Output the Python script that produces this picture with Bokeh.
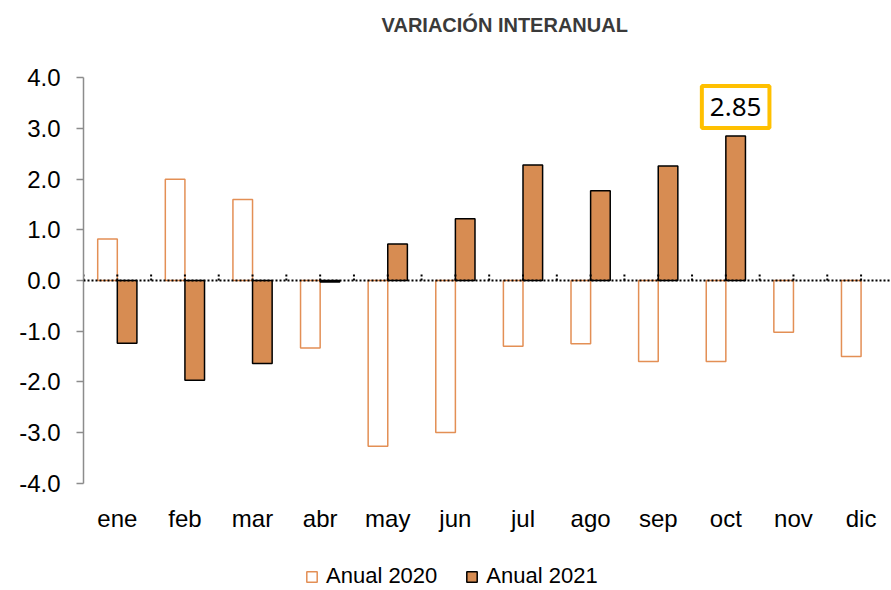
import numpy as np
from bokeh.plotting import figure
from bokeh.models import (Range1d, Span, Label, LabelSet, Legend, LegendItem,
                          FixedTicker, ColumnDataSource)
from bokeh.core.properties import value
from bokeh.embed import file_html
from bokeh.resources import INLINE

months = ["ene", "feb", "mar", "abr", "may", "jun", "jul", "ago", "sep", "oct", "nov", "dic"]
anual_2020 = [0.82, 2.0, 1.6, -1.33, -3.27, -3.0, -1.3, -1.25, -1.6, -1.6, -1.02, -1.5]
anual_2021 = [-1.24, -1.97, -1.64, -0.03, 0.72, 1.22, 2.28, 1.77, 2.26, 2.85]
y_ticks = [-4, -3, -2, -1, 0, 1, 2, 3, 4]
highlight_label = "2.85"
title_text = "VARIACIÓN INTERANUAL"

FONT = "Liberation Sans"
ORANGE = "#D78C52"
OUTLINE_2020 = "#E38F55"

idx = np.arange(len(months))
bw = 0.29
x2020 = idx + 0.5 - bw / 2
x2021 = idx[:len(anual_2021)] + 0.5 + bw / 2

# frame covers the whole canvas vertically; the y axis is bounded to [-4, 4]
p = figure(width=891, height=590, output_backend="svg", toolbar_location=None,
           x_range=Range1d(0, 11.95), y_range=Range1d(-6.118, 5.526),
           min_border_left=83, min_border_right=0, min_border_top=0, min_border_bottom=0)
p.outline_line_color = None
p.xgrid.visible = False
p.ygrid.visible = False
p.xaxis.visible = False

src20 = ColumnDataSource(dict(x=x2020, top=anual_2020))
src21 = ColumnDataSource(dict(x=x2021, top=anual_2021))
r20 = p.vbar(x="x", top="top", bottom=0, width=bw, source=src20,
             fill_color="white", line_color=OUTLINE_2020, line_width=1.5)
r21 = p.vbar(x="x", top="top", bottom=0, width=bw, source=src21,
             fill_color=ORANGE, line_color="black", line_width=1.5)

# zero line (dotted) and small dotted tick marks
p.add_layout(Span(location=0, dimension="width", line_color="black",
                  line_width=2, line_dash="2 2"))
tx = np.arange(0, 12.5, 0.5)
p.segment(x0=tx, x1=tx, y0=np.zeros_like(tx), y1=np.full_like(tx, 0.13),
          line_color="black", line_width=2, line_dash="2 2")

# y axis
ya = p.yaxis[0]
ya.bounds = (-4, 4)
ya.ticker = FixedTicker(ticks=y_ticks)
ya.major_label_overrides = {t: f"{t:.1f}" for t in y_ticks}
ya.axis_line_color = "#8C8C8C"
ya.axis_line_width = 1.5
ya.major_tick_line_color = "#8C8C8C"
ya.major_tick_line_width = 1.5
ya.major_tick_out = 7
ya.major_tick_in = 0
ya.minor_tick_line_color = None
ya.major_label_text_font = FONT
ya.major_label_text_font_size = "24px"
ya.major_label_text_color = "black"
ya.major_label_standoff = 16

# month labels under the plot area
msrc = ColumnDataSource(dict(x=idx + 0.5, y=np.full(len(months), -4.0), t=months))
p.add_layout(LabelSet(x="x", y="y", text="t", source=msrc, y_offset=-35,
                      text_align="center", text_baseline="middle",
                      text_font=value(FONT), text_font_size=value("24px"),
                      text_color="black"))

# title
p.add_layout(Label(x=6.23, y=4, y_offset=53, text=title_text, text_align="center",
                   text_baseline="middle", text_font=FONT, text_font_style="bold",
                   text_font_size="20px", text_color="#3A3A3A"))

# highlight label
p.add_layout(Label(x=x2021[9], y=anual_2021[9], y_offset=8, text=highlight_label,
                   text_align="center", text_baseline="bottom",
                   text_font="Noto Sans", text_font_size="26px",
                   text_color="black", background_fill_color="white",
                   border_line_color="#FFC000", border_line_width=4, padding=(8, 12)))

legend = Legend(items=[LegendItem(label="Anual 2020", renderers=[r20]),
                       LegendItem(label="Anual 2021", renderers=[r21])],
                orientation="horizontal", location=(222, 1),
                label_text_font=FONT, label_text_font_size="22px",
                label_text_color="black", glyph_width=13, glyph_height=13,
                label_standoff=8, spacing=28, border_line_color=None,
                background_fill_alpha=0, margin=0, padding=0)
p.add_layout(legend)

open("out.html", "w").write(file_html(p, INLINE))
